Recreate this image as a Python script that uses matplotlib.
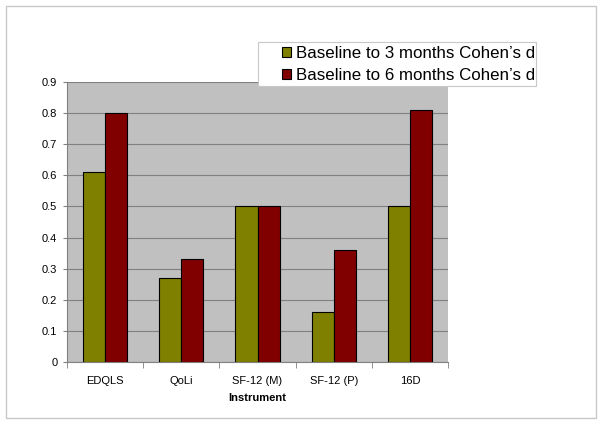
import matplotlib
matplotlib.use("Agg")
import matplotlib.pyplot as plt
import numpy as np
from matplotlib.patches import Rectangle

categories = ["EDQLS", "QoLi", "SF-12 (M)", "SF-12 (P)", "16D"]
three_months = [0.61, 0.27, 0.50, 0.16, 0.50]
six_months = [0.80, 0.33, 0.50, 0.36, 0.81]
series_labels = ["Baseline to 3 months Cohen\u2019s d", "Baseline to 6 months Cohen\u2019s d"]
yticks = [0, 0.1, 0.2, 0.3, 0.4, 0.5, 0.6, 0.7, 0.8, 0.9]

plt.rcParams['font.family'] = ['Liberation Sans', 'DejaVu Sans']

fig = plt.figure(figsize=(6, 4.25), dpi=100)
fig.patch.set_facecolor('white')
fig.patches.append(Rectangle((6/600, 1-418/425), 590/600, 412/425, transform=fig.transFigure,
                             fill=False, edgecolor='#c8c8c8', linewidth=1.0))

ax = fig.add_axes([67/600, 1-362/425, (448-67)/600, (362-82)/425])
ax.set_facecolor('#c0c0c0')
x = np.arange(len(categories))
w = 0.29
b1 = ax.bar(x - w/2, three_months, w, color='#808000', edgecolor='black', linewidth=0.8, zorder=3, label=series_labels[0])
b2 = ax.bar(x + w/2, six_months, w, color='#800000', edgecolor='black', linewidth=0.8, zorder=3, label=series_labels[1])

ax.set_ylim(0, 0.9)
ax.set_xlim(-0.5, len(categories) - 0.5)
ax.set_yticks(yticks)
ax.set_yticklabels([f"{v:g}" for v in yticks], fontsize=8)
ax.yaxis.grid(True, color='#808080', linewidth=0.8, zorder=1)
ax.set_axisbelow(True)
ax.set_xticks(x)
ax.set_xticklabels(categories, fontsize=8)
ax.tick_params(axis='x', length=0, pad=10)
ax.set_xticks(np.arange(-0.5, len(categories)), minor=True)
ax.tick_params(axis='x', which='minor', length=4, color='#808080')
ax.tick_params(axis='y', length=3, color='#808080', pad=4)
for s in ['top', 'right']:
    ax.spines[s].set_visible(False)
for s in ['left', 'bottom']:
    ax.spines[s].set_color('#808080')
ax.set_xlabel("Instrument", fontsize=8, fontweight='bold', labelpad=5)

# legend box
box = Rectangle((258/600, 1-86/425), (536-258)/600, 44/425, transform=fig.transFigure,
                facecolor='white', edgecolor='#c8c8c8', linewidth=0.8, zorder=9)
fig.patches.append(box)
leg = fig.legend(handles=[b1, b2], labels=series_labels, loc='upper left',
                 bbox_to_anchor=(282/600, 1-46/425), fontsize=12.2, frameon=False,
                 handlelength=0.55, handleheight=0.55, handletextpad=0.3,
                 borderpad=0.0, labelspacing=0.42, borderaxespad=0)
leg.set_zorder(10)

fig.savefig("out.png", dpi=100)
